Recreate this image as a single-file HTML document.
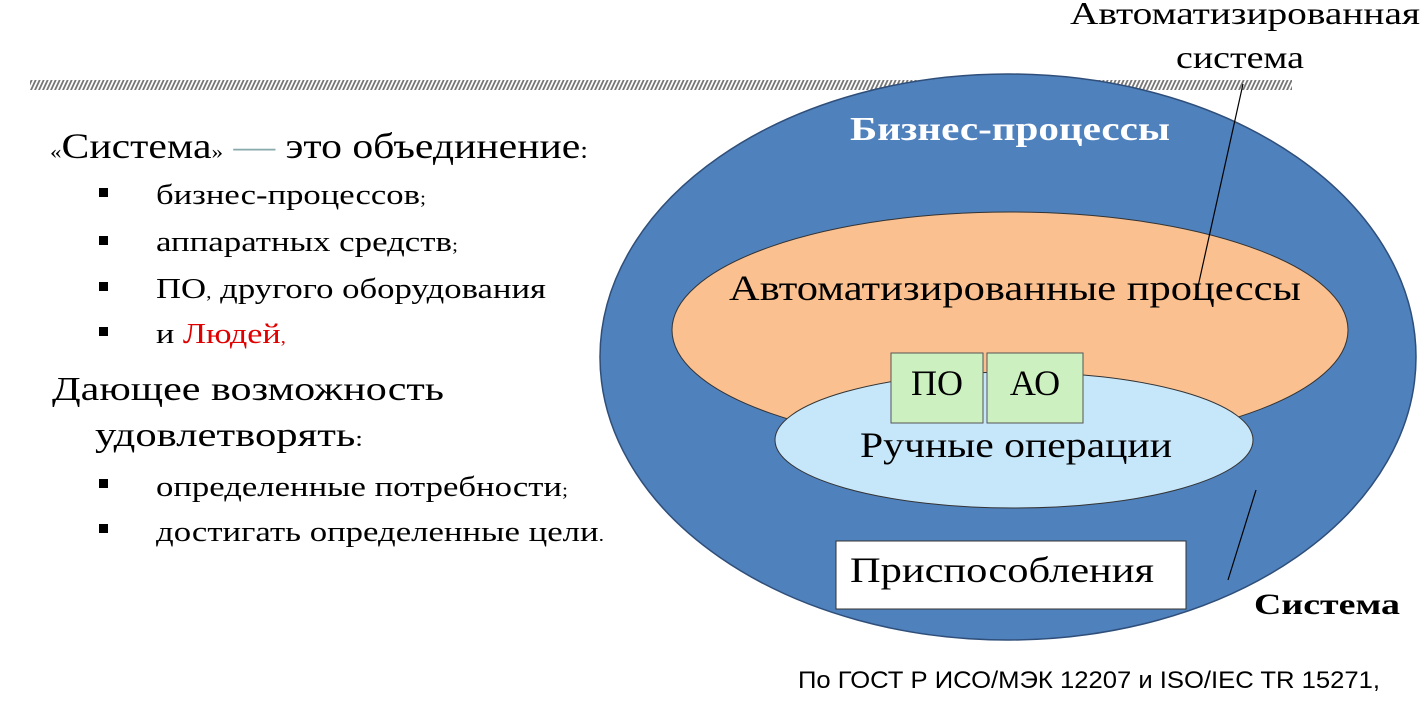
<!DOCTYPE html>
<html><head><meta charset="utf-8"><style>
html,body{margin:0;padding:0;background:#fff;}
svg{display:block;}
text{font-family:"Liberation Serif",serif;}
</style></head><body>
<svg width="1426" height="701" viewBox="0 0 1426 701" xmlns="http://www.w3.org/2000/svg">
<defs>
<pattern id="h" width="4" height="10" patternUnits="userSpaceOnUse" patternTransform="skewX(-25)">
<rect width="2" height="10" fill="#777"/>
</pattern>
</defs>
<rect x="30" y="80" width="1262" height="10" fill="url(#h)"/>
<!-- diagram -->
<ellipse cx="1008" cy="357" rx="408" ry="283" fill="#4f81bd" stroke="#2f4f7a" stroke-width="1.5"/>
<ellipse cx="1010" cy="330" rx="338" ry="118" fill="#fac090" stroke="#333" stroke-width="1"/>
<ellipse cx="1014" cy="440" rx="239" ry="68" fill="#c6e6fa" stroke="#333" stroke-width="1"/>
<rect x="891" y="353" width="92" height="70" fill="#ccf0c0" stroke="#555"/>
<rect x="987" y="353" width="96" height="70" fill="#ccf0c0" stroke="#555"/>
<rect x="836" y="541" width="350" height="68" fill="#fff" stroke="#333"/>
<line x1="1243" y1="84" x2="1195" y2="300" stroke="#000" stroke-width="1.2"/>
<line x1="1256" y1="490" x2="1228" y2="580" stroke="#000" stroke-width="1.2"/>
<text x="1010" y="140" fill="#fff" font-weight="bold" font-size="34" text-anchor="middle" textLength="320" lengthAdjust="spacingAndGlyphs">Бизнес-процессы</text>
<text x="1015" y="300" font-size="36" text-anchor="middle" textLength="572" lengthAdjust="spacingAndGlyphs">Автоматизированные процессы</text>
<text x="937" y="395" font-size="36" text-anchor="middle">ПО</text>
<text x="1035" y="395" font-size="36" text-anchor="middle">АО</text>
<text x="1016" y="457" font-size="36" text-anchor="middle" textLength="312" lengthAdjust="spacingAndGlyphs">Ручные операции</text>
<text x="1002" y="582" font-size="36" text-anchor="middle" textLength="304" lengthAdjust="spacingAndGlyphs">Приспособления</text>
<text x="1245" y="24" font-size="32" text-anchor="middle" textLength="350" lengthAdjust="spacingAndGlyphs">Автоматизированная</text>
<text x="1240" y="68" font-size="32" text-anchor="middle" textLength="128" lengthAdjust="spacingAndGlyphs">система</text>
<text x="1327" y="614" font-size="30" font-weight="bold" text-anchor="middle" textLength="146" lengthAdjust="spacingAndGlyphs">Система</text>
<text x="798" y="688" font-size="24" style="font-family:'Liberation Sans',sans-serif" textLength="582" lengthAdjust="spacingAndGlyphs">По ГОСТ Р ИСО/МЭК 12207 и ISO/IEC TR 15271,</text>
<!-- left text -->
<text x="50" y="158" font-size="36" textLength="538" lengthAdjust="spacingAndGlyphs"><tspan font-size="20">«</tspan>Система<tspan font-size="20">»</tspan> <tspan fill="#8aa">—</tspan> это объединение<tspan font-size="24">:</tspan></text>
<g fill="#000">
<rect x="99" y="188" width="9" height="9"/><rect x="99" y="236" width="9" height="9"/>
<rect x="99" y="282" width="9" height="9"/><rect x="99" y="327" width="9" height="9"/>
<rect x="99" y="479" width="9" height="9"/><rect x="99" y="524" width="9" height="9"/>
</g>
<text x="156" y="204" font-size="29" textLength="270" lengthAdjust="spacingAndGlyphs">бизнес-процессов<tspan font-size="18">;</tspan></text>
<text x="156" y="251" font-size="29" textLength="302" lengthAdjust="spacingAndGlyphs">аппаратных средств<tspan font-size="18">;</tspan></text>
<text x="156" y="298" font-size="29" textLength="390" lengthAdjust="spacingAndGlyphs">ПО<tspan font-size="18">,</tspan> другого оборудования</text>
<text x="156" y="343" font-size="29" textLength="130" lengthAdjust="spacingAndGlyphs">и <tspan fill="#e00000">Людей</tspan><tspan fill="#e00000" font-size="18">,</tspan></text>
<text x="52" y="400" font-size="34" textLength="392" lengthAdjust="spacingAndGlyphs">Дающее возможность</text>
<text x="95" y="446" font-size="34" textLength="268" lengthAdjust="spacingAndGlyphs">удовлетворять<tspan font-size="22">:</tspan></text>
<text x="156" y="496" font-size="29" textLength="412" lengthAdjust="spacingAndGlyphs">определенные потребности<tspan font-size="18">;</tspan></text>
<text x="156" y="541" font-size="29" textLength="448" lengthAdjust="spacingAndGlyphs">достигать определенные цели<tspan font-size="18">.</tspan></text>
</svg>
</body></html>
